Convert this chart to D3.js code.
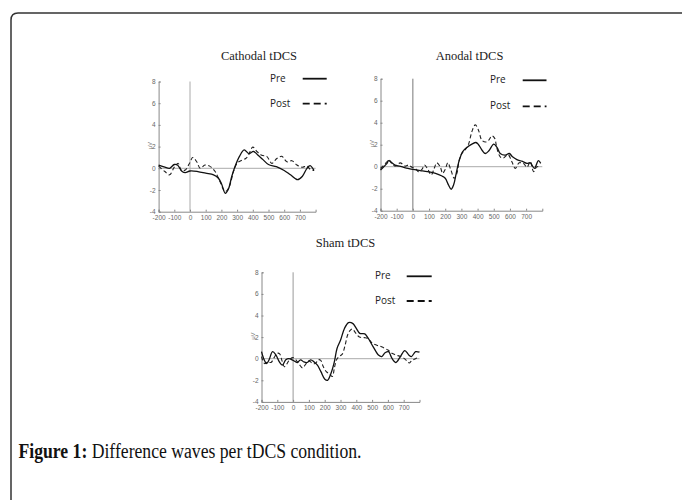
<!DOCTYPE html>
<html>
<head>
<meta charset="utf-8">
<script src="https://cdn.jsdelivr.net/npm/d3@7"></script>
<style>
  body { margin: 0; background: #fff; }
  svg { display: block; }
</style>
</head>
<body>
<svg id="chart" width="682" height="500"></svg>
<script>
// ---- data ----
const xTicks = [-200, -100, 0, 100, 200, 300, 400, 500, 600, 700];
const yTicks = [-4, -2, 0, 2, 4, 6, 8];
const legendLabels = ['Pre', 'Post'];
const panelTitles = ['Cathodal tDCS', 'Anodal tDCS', 'Sham tDCS'];

const cathodalPreT = [-200, -160, -130, -100, -80, -50, -30, 0, 50, 100, 150, 180, 200, 225, 245, 265, 285, 315, 345, 375, 405, 430, 465, 500, 550, 600, 640, 685, 715, 745, 765, 790];
const cathodalPreV = [0.3, 0.1, 0.0, 0.35, 0.3, -0.3, -0.4, -0.25, -0.3, -0.45, -0.6, -0.9, -1.4, -2.3, -1.9, -0.8, 0.1, 1.1, 1.7, 1.35, 1.55, 1.25, 0.8, 0.35, 0.15, -0.2, -0.6, -1.05, -0.75, 0.0, 0.25, -0.2];
const cathodalPostT = [-200, -160, -130, -100, -75, -55, -30, 0, 17, 43, 65, 95, 125, 160, 190, 225, 250, 277, 302, 330, 355, 372, 400, 426, 457, 489, 521, 553, 585, 617, 649, 681, 713, 745, 766, 790];
const cathodalPostV = [0.2, -0.3, -0.6, 0.1, 0.45, -0.2, -0.15, 0.55, 1.0, 0.6, 0.0, 0.3, 0.2, -0.3, -1.2, -2.15, -1.7, -0.3, 0.5, 0.75, 0.9, 1.2, 1.95, 1.55, 1.2, 1.1, 0.45, 0.9, 1.1, 0.6, 0.7, 0.3, 0.1, 0.2, -0.1, -0.2];

const anodalPreT = [-200, -160, -150, -110, -70, -30, 0, 45, 90, 140, 180, 200, 220, 237, 252, 268, 287, 307, 334, 365, 390, 406, 430, 448, 470, 500, 520, 540, 571, 596, 616, 643, 674, 705, 726, 751, 776, 790];
const anodalPreV = [-0.3, 0.3, 0.55, 0.15, 0.0, -0.15, -0.25, -0.35, -0.45, -0.6, -0.85, -1.05, -1.65, -2.05, -1.65, -0.6, 0.6, 1.35, 1.75, 2.05, 2.2, 2.0, 1.45, 1.2, 1.45, 2.05, 1.75, 1.2, 1.05, 1.2, 0.9, 0.65, 0.5, 0.3, 0.35, -0.15, 0.55, 0.3];
const anodalPostT = [-200, -160, -150, -130, -110, -78, -47, -27, -6, 14, 35, 56, 72, 93, 113, 132, 148, 169, 184, 200, 216, 235, 256, 272, 287, 303, 324, 344, 365, 386, 406, 427, 452, 468, 489, 505, 520, 540, 561, 588, 612, 633, 657, 684, 705, 726, 746, 767, 790];
const anodalPostV = [-0.15, 0.45, 0.65, 0.3, 0.05, 0.35, 0.05, 0.15, -0.05, -0.15, -0.45, -0.25, 0.15, -0.25, -0.75, -0.15, 0.35, 0.0, -0.6, -0.25, 0.35, -0.3, -1.05, -0.6, 0.6, 1.2, 1.55, 2.05, 3.2, 3.8, 3.3, 2.4, 2.25, 2.4, 2.8, 2.6, 1.65, 0.9, 0.8, 1.1, 0.45, -0.15, 0.35, 0.3, -0.05, 0.45, -0.45, 0.0, -0.1];

const shamPreT = [-200, -183, -167, -152, -130, -109, -87, -68, -46, -27, 0, 26, 47, 68, 90, 111, 133, 154, 176, 201, 218, 240, 261, 278, 300, 325, 351, 379, 400, 422, 454, 475, 507, 540, 561, 582, 604, 625, 651, 679, 707, 732, 749, 775, 800];
const shamPreV = [0.65, -0.1, -0.45, -0.1, 0.65, 0.35, -0.3, -0.6, -0.1, 0.0, -0.15, -0.35, -0.1, -0.3, -0.35, -0.1, -0.3, -0.6, -1.2, -1.9, -2.0, -1.35, -0.3, 0.95, 1.7, 2.8, 3.35, 3.25, 2.8, 2.35, 2.3, 1.9, 1.1, 0.35, 0.2, 0.55, 0.65, 0.05, -0.35, 0.2, 0.75, 0.35, 0.2, 0.65, 0.6];
const shamPostT = [-200, -180, -160, -140, -120, -100, -85, -70, -55, -40, -20, 0, 20, 40, 60, 80, 100, 120, 140, 160, 175, 190, 210, 230, 248, 262, 275, 290, 310, 330, 345, 360, 375, 395, 420, 450, 475, 500, 530, 560, 600, 625, 650, 680, 700, 720, 735, 750, 775, 800];
const shamPostV = [0.2, -0.45, -0.3, -0.35, 0.1, 0.5, 0.45, -0.2, -0.75, -0.5, -0.05, 0.1, -0.15, -0.55, -0.85, -0.5, -0.2, -0.4, -0.45, -0.1, -0.15, -0.7, -1.2, -1.4, -1.65, -0.8, -0.1, 0.2, 0.4, 1.3, 2.2, 2.6, 2.75, 2.4, 2.0, 1.95, 1.85, 1.45, 1.25, 1.1, 0.8, 0.5, 0.35, 0.2, 0.05, -0.2, -0.4, -0.2, 0.0, 0.15];

const captionParts = ['Figure 1:', 'Difference waves per tDCS condition.'];

// ---- layout ----
const panels = [
  { title: panelTitles[0], x0: 158.6, x1: 315.6, yb: 211.7, yt: 81.5, titleX: 259, titleY: 60,
    legX: 270, legY: [81.7, 106.7], legL: [302.7, 326.7],
    pre: [cathodalPreT, cathodalPreV], post: [cathodalPostT, cathodalPostV], zeroColor: '#aaa' },
  { title: panelTitles[1], x0: 380.5, x1: 542.3, yb: 210.7, yt: 78.7, titleX: 469.5, titleY: 60,
    legX: 490, legY: [83.3, 109.3], legL: [522.7, 546.5],
    pre: [anodalPreT, anodalPreV], post: [anodalPostT, anodalPostV], zeroColor: '#777' },
  { title: panelTitles[2], x0: 261.5, x1: 419.5, yb: 401.9, yt: 272.3, titleX: 345.5, titleY: 247,
    legX: 375, legY: [279.3, 304], legL: [406.7, 431.7],
    pre: [shamPreT, shamPreV], post: [shamPostT, shamPostV], zeroColor: '#999' }
];

const svg = d3.select('#chart');

// frame (rounded corner at top-left, continues off the page)
svg.append('path')
  .attr('d', 'M11,505 L11,20 Q11,13 18,13 L690,13')
  .attr('fill', 'none')
  .attr('stroke', '#333')
  .attr('stroke-width', 1.5);

panels.forEach(p => {
  const x = d3.scaleLinear().domain([-200, 800]).range([p.x0, p.x1]);
  const y = d3.scaleLinear().domain([-4, 8]).range([p.yb, p.yt]);
  const g = svg.append('g');

  // title
  g.append('text')
    .attr('x', p.titleX).attr('y', p.titleY)
    .attr('text-anchor', 'middle')
    .attr('font-family', '"Liberation Serif", "Times New Roman", serif')
    .attr('font-size', '12.5px')
    .attr('fill', '#222')
    .text(p.title);

  // zero lines
  g.append('line')
    .attr('x1', x(-200)).attr('x2', x(800))
    .attr('y1', y(0)).attr('y2', y(0))
    .attr('stroke', '#aaa').attr('stroke-width', 1);
  g.append('line')
    .attr('x1', x(0)).attr('x2', x(0))
    .attr('y1', y(8)).attr('y2', y(-4))
    .attr('stroke', p.zeroColor).attr('stroke-width', 1);

  // axes (plain hyphen minus like the original)
  const fmt = d => String(d);
  const xAxis = d3.axisBottom(x).tickValues(xTicks).tickFormat(fmt).tickSize(-2).tickPadding(3);
  const yAxis = d3.axisLeft(y).tickValues(yTicks).tickFormat(fmt).tickSize(-2).tickPadding(3);

  const gx = g.append('g').attr('transform', `translate(0,${p.yb})`).call(xAxis);
  const gy = g.append('g').attr('transform', `translate(${p.x0},0)`).call(yAxis);
  [gx, gy].forEach(a => {
    a.select('.domain').attr('stroke', '#888');
    a.selectAll('.tick line').attr('stroke', '#888');
    a.selectAll('.tick text')
      .attr('fill', '#666')
      .attr('font-family', '"Liberation Sans", Arial, sans-serif')
      .attr('font-size', '6.5px');
  });
  gx.selectAll('.tick text').attr('dy', '0.85em');

  // unit label
  g.append('text')
    .attr('transform', `translate(${p.x0 - 7},${y(2.1)}) rotate(-90)`)
    .attr('text-anchor', 'middle')
    .attr('font-family', '"Liberation Sans", Arial, sans-serif')
    .attr('font-size', '5.5px')
    .attr('fill', '#777')
    .text('μV');

  // waves
  const line = d3.line()
    .x(d => x(d[0]))
    .y(d => y(d[1]))
    .curve(d3.curveCatmullRom.alpha(0.5));

  const preData = d3.zip(p.pre[0], p.pre[1]);
  const postData = d3.zip(p.post[0], p.post[1]);

  g.append('path')
    .datum(postData)
    .attr('d', line)
    .attr('fill', 'none')
    .attr('stroke', '#222')
    .attr('stroke-width', 1.1)
    .attr('stroke-dasharray', '4,2.5');

  g.append('path')
    .datum(preData)
    .attr('d', line)
    .attr('fill', 'none')
    .attr('stroke', '#111')
    .attr('stroke-width', 1.3);

  // legend
  legendLabels.forEach((lab, i) => {
    g.append('text')
      .attr('x', p.legX).attr('y', p.legY[i])
      .attr('font-family', '"Open Sans", "Noto Sans", sans-serif')
      .attr('font-size', '10px')
      .attr('fill', '#222')
      .text(lab);
    g.append('line')
      .attr('x1', p.legL[0]).attr('x2', p.legL[1])
      .attr('y1', p.legY[i] - 3).attr('y2', p.legY[i] - 3)
      .attr('stroke', '#111')
      .attr('stroke-width', 1.8)
      .attr('stroke-dasharray', i === 1 ? '7,4' : null);
  });
});

// caption: two pieces squeezed to the original width (343px), with a word gap
const capX = 18.5, capY = 457.5, capW = 343, gap = 5;
const capPieces = captionParts.map((t, i) => svg.append('text')
  .attr('y', capY)
  .attr('font-family', '"Liberation Serif", "Times New Roman", serif')
  .attr('font-size', '20px')
  .attr('font-weight', i === 0 ? 'bold' : 'normal')
  .attr('fill', '#111')
  .text(t));
const widths = capPieces.map(s => s.node().getComputedTextLength());
const k = capW / (d3.sum(widths) + gap);
let cx = capX;
capPieces.forEach((s, i) => {
  s.attr('x', cx)
    .attr('textLength', widths[i] * k)
    .attr('lengthAdjust', 'spacingAndGlyphs');
  cx += (widths[i] + gap) * k;
});
</script>
</body>
</html>
